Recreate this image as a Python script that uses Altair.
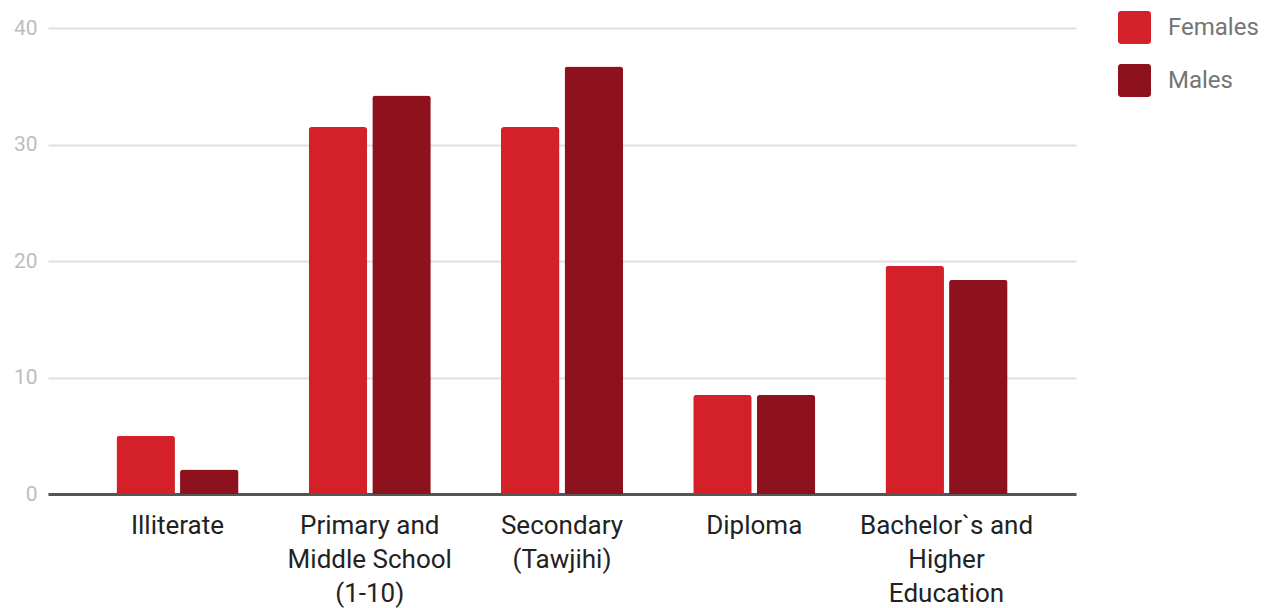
import altair as alt
import pandas as pd

# Share of population by educational attainment (%)
categories = [
    "Illiterate",
    "Primary and\nMiddle School\n(1-10)",
    "Secondary\n(Tawjihi)",
    "Diploma",
    "Bachelor`s and\nHigher\nEducation",
]
females = [5.0, 31.5, 31.5, 8.5, 19.6]
males = [2.1, 34.2, 36.7, 8.5, 18.4]
series = ["Females", "Males"]
colors = ["#d42129", "#8e111e"]
y_ticks = [0, 10, 20, 30, 40]

rows = []
for cat, f, m in zip(categories, females, males):
    rows.append({"level": cat, "sex": series[0], "value": f})
    rows.append({"level": cat, "sex": series[1], "value": m})
df = pd.DataFrame(rows)

FONT = "Roboto"

# rounded square legend swatch (unit coords -1..1)
ROUNDED_SQUARE = (
    "M-0.82,-1 H0.82 A0.18,0.18 0 0 1 1,-0.82 V0.82 A0.18,0.18 0 0 1 0.82,1 "
    "H-0.82 A0.18,0.18 0 0 1 -1,0.82 V-0.82 A0.18,0.18 0 0 1 -0.82,-1 Z"
)

chart = (
    alt.Chart(df)
    .mark_bar(cornerRadiusTopLeft=3, cornerRadiusTopRight=3)
    .encode(
        x=alt.X(
            "level:N",
            sort=categories,
            title=None,
            scale=alt.Scale(paddingInner=0.365, paddingOuter=0.356),
            axis=alt.Axis(
                labelAngle=0,
                labelExpr="split(datum.value, '\\n')",
                labelFont=FONT,
                labelFontSize=26,
                labelColor="#222222",
                labelLineHeight=34,
                labelPadding=18,
                ticks=False,
                domainColor="#555555",
                domainWidth=3,
                grid=False,
                labelLimit=400,
            ),
        ),
        xOffset=alt.XOffset("sex:N", sort=series, scale=alt.Scale(paddingInner=0.08)),
        y=alt.Y(
            "value:Q",
            title=None,
            scale=alt.Scale(domain=[0, 40], nice=False),
            axis=alt.Axis(
                values=y_ticks,
                labelFont=FONT,
                labelFontSize=21,
                labelColor="#bdbdbd",
                labelPadding=11,
                ticks=False,
                domain=False,
                gridColor="#e0e0e0",
                gridWidth=2,
            ),
        ),
        color=alt.Color(
            "sex:N",
            sort=series,
            scale=alt.Scale(domain=series, range=colors),
            legend=alt.Legend(
                title=None,
                orient="none",
                legendX=1070,
                legendY=-17,
                symbolType=ROUNDED_SQUARE,
                symbolSize=1089,
                symbolStrokeWidth=0,
                symbolOpacity=1,
                labelFont=FONT,
                labelFontSize=24,
                labelColor="#757575",
                labelOffset=17,
                rowPadding=20,
            ),
        ),
    )
    .properties(
        width=1028,
        height=466,
        background="white",
        autosize=alt.AutoSizeParams(type="none"),
        padding={"left": 48, "top": 28, "right": 195, "bottom": 114},
    )
    .configure_view(stroke=None, strokeWidth=0)
)

chart.save("out.html", embed_options={"renderer": "svg", "actions": False})
